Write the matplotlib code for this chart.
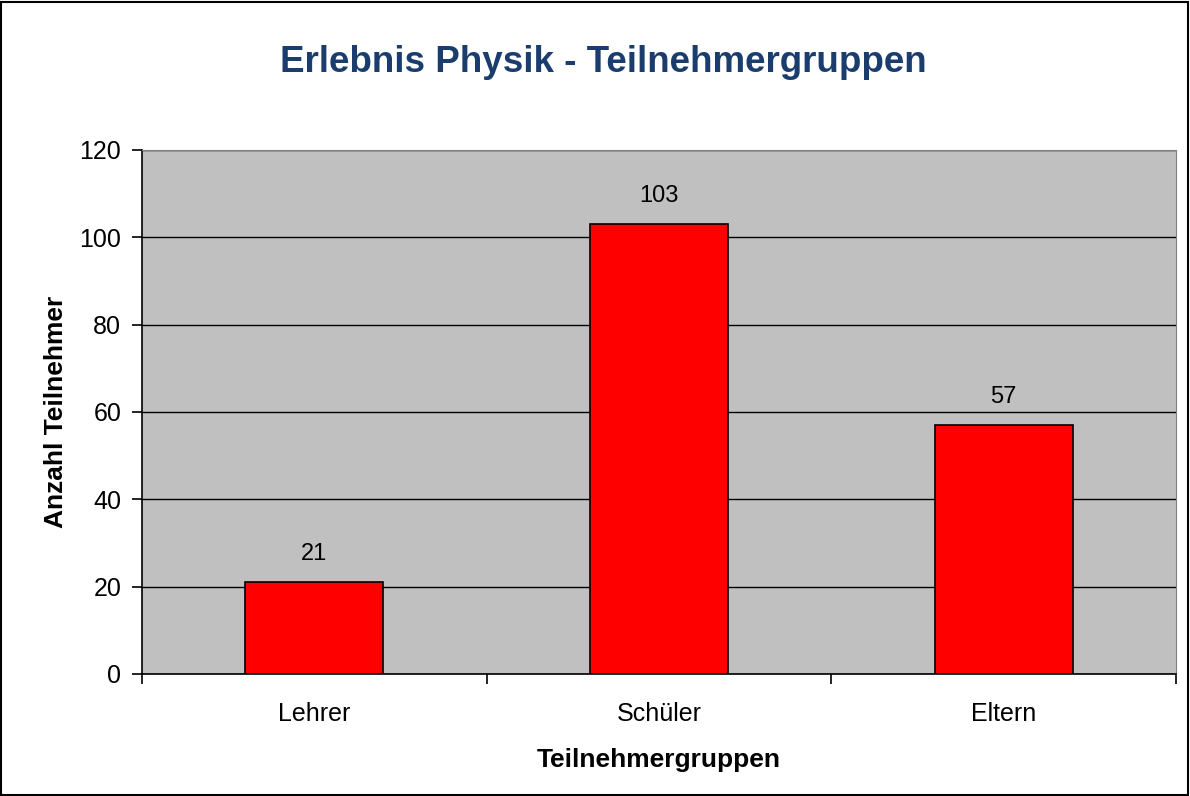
import matplotlib.pyplot as plt
import numpy as np

plt.rcParams['font.family'] = ['Liberation Sans', 'DejaVu Sans']

groups = ["Lehrer", "Schüler", "Eltern"]
counts = [21, 103, 57]
y_ticks = [0, 20, 40, 60, 80, 100, 120]

fig = plt.figure(figsize=(11.9, 7.96), dpi=100)
ax = fig.add_axes([0.1193, 0.1533, 0.869, 0.6583])
ax.set_facecolor("#C0C0C0")

x = np.arange(len(groups))
ax.bar(x, counts, width=0.40, color="#FF0000", edgecolor="black", linewidth=1.2, zorder=3)
for xi, v in zip(x, counts):
    ax.text(xi, v + 5, str(v), ha="center", va="baseline", fontsize=17)

ax.set_xlim(-0.5, len(groups) - 0.5)
ax.set_ylim(0, 120)
ax.set_yticks(y_ticks)
ax.yaxis.grid(True, color="black", linewidth=1.0, zorder=1)
ax.set_axisbelow(True)

# ticks at category boundaries, labels centred under the bars
ax.set_xticks(np.arange(len(groups) + 1) - 0.5)
ax.set_xticklabels([])
ax.set_xticks(x, minor=True)
ax.set_xticklabels(groups, minor=True)
ax.tick_params(axis="x", which="minor", length=0, pad=20, labelsize=18)
ax.tick_params(axis="x", which="major", length=7, width=1.2, direction="out")
ax.tick_params(axis="y", length=7, width=1.2, direction="out", labelsize=18, pad=8)

for s in ax.spines.values():
    s.set_color("#808080")
ax.spines["left"].set_color("black")
ax.spines["bottom"].set_color("black")
ax.spines["left"].set_linewidth(1.2)
ax.spines["bottom"].set_linewidth(1.2)

ax.set_xlabel("Teilnehmergruppen", fontsize=19, fontweight="bold", labelpad=16)
ax.set_ylabel("Anzahl Teilnehmer", fontsize=19, fontweight="bold", labelpad=8)

fig.text(0.507, 0.922, "Erlebnis Physik - Teilnehmergruppen", ha="center", va="center",
         fontsize=26.5, fontweight="bold", color="#1A3D6D")

# outer frame
fig.patches.append(plt.Rectangle((0.001, 0.001), 0.997, 0.997, transform=fig.transFigure,
                                 fill=False, edgecolor="black", linewidth=1.5))

plt.savefig("out.png", dpi=100)
plt.close()
